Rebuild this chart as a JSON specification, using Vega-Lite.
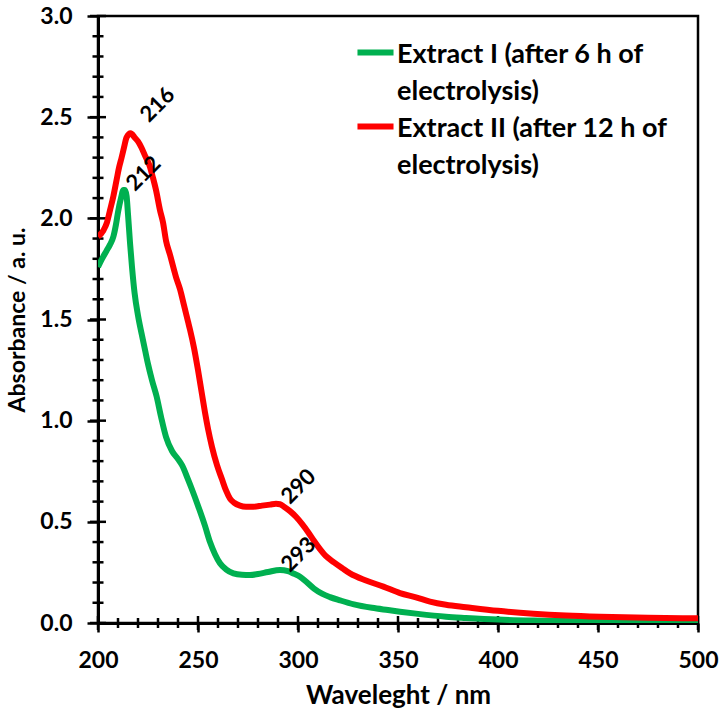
{
  "$schema": "https://vega.github.io/schema/vega-lite/v6.json",
  "width": 600,
  "height": 607,
  "autosize": "none",
  "padding": {"left": 98, "top": 16, "right": 28, "bottom": 90},
  "config": {
    "font": "Lato",
    "view": {"stroke": "black", "strokeWidth": 2.5},
    "axis": {"grid": false, "domainColor": "black", "labelColor": "black", "titleColor": "black", "domainWidth": 3, "labelFont": "Lato", "titleFont": "Lato", "labelFontWeight": "bold", "titleFontWeight": "bold", "labelFontSize": 23, "titleFontSize": 23}
  },
  "datasets": {
    "lines": [
      {"series": "Extract I (after 6 h of electrolysis)", "wavelength": 200, "absorbance": 1.76},
      {"series": "Extract I (after 6 h of electrolysis)", "wavelength": 202, "absorbance": 1.80},
      {"series": "Extract I (after 6 h of electrolysis)", "wavelength": 204.3, "absorbance": 1.84},
      {"series": "Extract I (after 6 h of electrolysis)", "wavelength": 206, "absorbance": 1.87},
      {"series": "Extract I (after 6 h of electrolysis)", "wavelength": 207.7, "absorbance": 1.91},
      {"series": "Extract I (after 6 h of electrolysis)", "wavelength": 209, "absorbance": 1.97},
      {"series": "Extract I (after 6 h of electrolysis)", "wavelength": 210, "absorbance": 2.03},
      {"series": "Extract I (after 6 h of electrolysis)", "wavelength": 211.5, "absorbance": 2.10},
      {"series": "Extract I (after 6 h of electrolysis)", "wavelength": 212.7, "absorbance": 2.14},
      {"series": "Extract I (after 6 h of electrolysis)", "wavelength": 213.5, "absorbance": 2.14},
      {"series": "Extract I (after 6 h of electrolysis)", "wavelength": 214.3, "absorbance": 2.11},
      {"series": "Extract I (after 6 h of electrolysis)", "wavelength": 215, "absorbance": 2.02},
      {"series": "Extract I (after 6 h of electrolysis)", "wavelength": 216, "absorbance": 1.88},
      {"series": "Extract I (after 6 h of electrolysis)", "wavelength": 217, "absorbance": 1.76},
      {"series": "Extract I (after 6 h of electrolysis)", "wavelength": 218.3, "absorbance": 1.63},
      {"series": "Extract I (after 6 h of electrolysis)", "wavelength": 220, "absorbance": 1.52},
      {"series": "Extract I (after 6 h of electrolysis)", "wavelength": 221.8, "absorbance": 1.43},
      {"series": "Extract I (after 6 h of electrolysis)", "wavelength": 223.5, "absorbance": 1.35},
      {"series": "Extract I (after 6 h of electrolysis)", "wavelength": 225, "absorbance": 1.28},
      {"series": "Extract I (after 6 h of electrolysis)", "wavelength": 227, "absorbance": 1.20},
      {"series": "Extract I (after 6 h of electrolysis)", "wavelength": 229.3, "absorbance": 1.12},
      {"series": "Extract I (after 6 h of electrolysis)", "wavelength": 231.5, "absorbance": 1.02},
      {"series": "Extract I (after 6 h of electrolysis)", "wavelength": 234, "absorbance": 0.92},
      {"series": "Extract I (after 6 h of electrolysis)", "wavelength": 237, "absorbance": 0.85},
      {"series": "Extract I (after 6 h of electrolysis)", "wavelength": 240, "absorbance": 0.81},
      {"series": "Extract I (after 6 h of electrolysis)", "wavelength": 242, "absorbance": 0.78},
      {"series": "Extract I (after 6 h of electrolysis)", "wavelength": 245, "absorbance": 0.71},
      {"series": "Extract I (after 6 h of electrolysis)", "wavelength": 247, "absorbance": 0.66},
      {"series": "Extract I (after 6 h of electrolysis)", "wavelength": 250, "absorbance": 0.58},
      {"series": "Extract I (after 6 h of electrolysis)", "wavelength": 253.5, "absorbance": 0.48},
      {"series": "Extract I (after 6 h of electrolysis)", "wavelength": 256, "absorbance": 0.40},
      {"series": "Extract I (after 6 h of electrolysis)", "wavelength": 258.5, "absorbance": 0.34},
      {"series": "Extract I (after 6 h of electrolysis)", "wavelength": 261, "absorbance": 0.295},
      {"series": "Extract I (after 6 h of electrolysis)", "wavelength": 264, "absorbance": 0.265},
      {"series": "Extract I (after 6 h of electrolysis)", "wavelength": 267.7, "absorbance": 0.245},
      {"series": "Extract I (after 6 h of electrolysis)", "wavelength": 272, "absorbance": 0.238},
      {"series": "Extract I (after 6 h of electrolysis)", "wavelength": 276, "absorbance": 0.237},
      {"series": "Extract I (after 6 h of electrolysis)", "wavelength": 280, "absorbance": 0.242},
      {"series": "Extract I (after 6 h of electrolysis)", "wavelength": 285, "absorbance": 0.252},
      {"series": "Extract I (after 6 h of electrolysis)", "wavelength": 291, "absorbance": 0.262},
      {"series": "Extract I (after 6 h of electrolysis)", "wavelength": 295, "absorbance": 0.256},
      {"series": "Extract I (after 6 h of electrolysis)", "wavelength": 298, "absorbance": 0.243},
      {"series": "Extract I (after 6 h of electrolysis)", "wavelength": 301, "absorbance": 0.229},
      {"series": "Extract I (after 6 h of electrolysis)", "wavelength": 304, "absorbance": 0.205},
      {"series": "Extract I (after 6 h of electrolysis)", "wavelength": 308, "absorbance": 0.170},
      {"series": "Extract I (after 6 h of electrolysis)", "wavelength": 312, "absorbance": 0.145},
      {"series": "Extract I (after 6 h of electrolysis)", "wavelength": 316, "absorbance": 0.128},
      {"series": "Extract I (after 6 h of electrolysis)", "wavelength": 321, "absorbance": 0.112},
      {"series": "Extract I (after 6 h of electrolysis)", "wavelength": 328, "absorbance": 0.092},
      {"series": "Extract I (after 6 h of electrolysis)", "wavelength": 337, "absorbance": 0.075},
      {"series": "Extract I (after 6 h of electrolysis)", "wavelength": 345, "absorbance": 0.064},
      {"series": "Extract I (after 6 h of electrolysis)", "wavelength": 351, "absorbance": 0.056},
      {"series": "Extract I (after 6 h of electrolysis)", "wavelength": 360, "absorbance": 0.045},
      {"series": "Extract I (after 6 h of electrolysis)", "wavelength": 374, "absorbance": 0.031},
      {"series": "Extract I (after 6 h of electrolysis)", "wavelength": 384, "absorbance": 0.025},
      {"series": "Extract I (after 6 h of electrolysis)", "wavelength": 400, "absorbance": 0.017},
      {"series": "Extract I (after 6 h of electrolysis)", "wavelength": 418, "absorbance": 0.012},
      {"series": "Extract I (after 6 h of electrolysis)", "wavelength": 451, "absorbance": 0.008},
      {"series": "Extract I (after 6 h of electrolysis)", "wavelength": 475, "absorbance": 0.006},
      {"series": "Extract I (after 6 h of electrolysis)", "wavelength": 500, "absorbance": 0.005},
      {"series": "Extract II (after 12 h of electrolysis)", "wavelength": 200, "absorbance": 1.91},
      {"series": "Extract II (after 12 h of electrolysis)", "wavelength": 202.7, "absorbance": 1.94},
      {"series": "Extract II (after 12 h of electrolysis)", "wavelength": 204.5, "absorbance": 1.98},
      {"series": "Extract II (after 12 h of electrolysis)", "wavelength": 206, "absorbance": 2.04},
      {"series": "Extract II (after 12 h of electrolysis)", "wavelength": 207.7, "absorbance": 2.11},
      {"series": "Extract II (after 12 h of electrolysis)", "wavelength": 209.3, "absorbance": 2.19},
      {"series": "Extract II (after 12 h of electrolysis)", "wavelength": 210.5, "absorbance": 2.25},
      {"series": "Extract II (after 12 h of electrolysis)", "wavelength": 211.8, "absorbance": 2.30},
      {"series": "Extract II (after 12 h of electrolysis)", "wavelength": 213, "absorbance": 2.35},
      {"series": "Extract II (after 12 h of electrolysis)", "wavelength": 214.3, "absorbance": 2.40},
      {"series": "Extract II (after 12 h of electrolysis)", "wavelength": 216.3, "absorbance": 2.42},
      {"series": "Extract II (after 12 h of electrolysis)", "wavelength": 218.3, "absorbance": 2.40},
      {"series": "Extract II (after 12 h of electrolysis)", "wavelength": 220, "absorbance": 2.38},
      {"series": "Extract II (after 12 h of electrolysis)", "wavelength": 221.7, "absorbance": 2.35},
      {"series": "Extract II (after 12 h of electrolysis)", "wavelength": 223.5, "absorbance": 2.31},
      {"series": "Extract II (after 12 h of electrolysis)", "wavelength": 225.8, "absorbance": 2.26},
      {"series": "Extract II (after 12 h of electrolysis)", "wavelength": 227.5, "absorbance": 2.20},
      {"series": "Extract II (after 12 h of electrolysis)", "wavelength": 229, "absorbance": 2.14},
      {"series": "Extract II (after 12 h of electrolysis)", "wavelength": 231, "absorbance": 2.04},
      {"series": "Extract II (after 12 h of electrolysis)", "wavelength": 232.5, "absorbance": 1.98},
      {"series": "Extract II (after 12 h of electrolysis)", "wavelength": 234, "absorbance": 1.89},
      {"series": "Extract II (after 12 h of electrolysis)", "wavelength": 236, "absorbance": 1.82},
      {"series": "Extract II (after 12 h of electrolysis)", "wavelength": 239, "absorbance": 1.71},
      {"series": "Extract II (after 12 h of electrolysis)", "wavelength": 241, "absorbance": 1.65},
      {"series": "Extract II (after 12 h of electrolysis)", "wavelength": 243, "absorbance": 1.57},
      {"series": "Extract II (after 12 h of electrolysis)", "wavelength": 245, "absorbance": 1.49},
      {"series": "Extract II (after 12 h of electrolysis)", "wavelength": 246, "absorbance": 1.45},
      {"series": "Extract II (after 12 h of electrolysis)", "wavelength": 248, "absorbance": 1.36},
      {"series": "Extract II (after 12 h of electrolysis)", "wavelength": 250, "absorbance": 1.25},
      {"series": "Extract II (after 12 h of electrolysis)", "wavelength": 252, "absorbance": 1.13},
      {"series": "Extract II (after 12 h of electrolysis)", "wavelength": 253.5, "absorbance": 1.04},
      {"series": "Extract II (after 12 h of electrolysis)", "wavelength": 255, "absorbance": 0.96},
      {"series": "Extract II (after 12 h of electrolysis)", "wavelength": 257, "absorbance": 0.87},
      {"series": "Extract II (after 12 h of electrolysis)", "wavelength": 259.5, "absorbance": 0.78},
      {"series": "Extract II (after 12 h of electrolysis)", "wavelength": 262, "absorbance": 0.71},
      {"series": "Extract II (after 12 h of electrolysis)", "wavelength": 264, "absorbance": 0.655},
      {"series": "Extract II (after 12 h of electrolysis)", "wavelength": 266, "absorbance": 0.615},
      {"series": "Extract II (after 12 h of electrolysis)", "wavelength": 268, "absorbance": 0.595},
      {"series": "Extract II (after 12 h of electrolysis)", "wavelength": 271, "absorbance": 0.58},
      {"series": "Extract II (after 12 h of electrolysis)", "wavelength": 274, "absorbance": 0.575},
      {"series": "Extract II (after 12 h of electrolysis)", "wavelength": 277.7, "absorbance": 0.575},
      {"series": "Extract II (after 12 h of electrolysis)", "wavelength": 282, "absorbance": 0.58},
      {"series": "Extract II (after 12 h of electrolysis)", "wavelength": 286, "absorbance": 0.585},
      {"series": "Extract II (after 12 h of electrolysis)", "wavelength": 289, "absorbance": 0.589},
      {"series": "Extract II (after 12 h of electrolysis)", "wavelength": 291, "absorbance": 0.587},
      {"series": "Extract II (after 12 h of electrolysis)", "wavelength": 293, "absorbance": 0.575},
      {"series": "Extract II (after 12 h of electrolysis)", "wavelength": 296, "absorbance": 0.553},
      {"series": "Extract II (after 12 h of electrolysis)", "wavelength": 299, "absorbance": 0.525},
      {"series": "Extract II (after 12 h of electrolysis)", "wavelength": 302, "absorbance": 0.49},
      {"series": "Extract II (after 12 h of electrolysis)", "wavelength": 305, "absorbance": 0.45},
      {"series": "Extract II (after 12 h of electrolysis)", "wavelength": 307.7, "absorbance": 0.41},
      {"series": "Extract II (after 12 h of electrolysis)", "wavelength": 311, "absorbance": 0.365},
      {"series": "Extract II (after 12 h of electrolysis)", "wavelength": 314, "absorbance": 0.33},
      {"series": "Extract II (after 12 h of electrolysis)", "wavelength": 318, "absorbance": 0.30},
      {"series": "Extract II (after 12 h of electrolysis)", "wavelength": 322, "absorbance": 0.272},
      {"series": "Extract II (after 12 h of electrolysis)", "wavelength": 326, "absorbance": 0.245},
      {"series": "Extract II (after 12 h of electrolysis)", "wavelength": 334, "absorbance": 0.21},
      {"series": "Extract II (after 12 h of electrolysis)", "wavelength": 342.7, "absorbance": 0.18},
      {"series": "Extract II (after 12 h of electrolysis)", "wavelength": 351, "absorbance": 0.148},
      {"series": "Extract II (after 12 h of electrolysis)", "wavelength": 359, "absorbance": 0.127},
      {"series": "Extract II (after 12 h of electrolysis)", "wavelength": 366, "absorbance": 0.106},
      {"series": "Extract II (after 12 h of electrolysis)", "wavelength": 374, "absorbance": 0.09},
      {"series": "Extract II (after 12 h of electrolysis)", "wavelength": 384, "absorbance": 0.078},
      {"series": "Extract II (after 12 h of electrolysis)", "wavelength": 400, "absorbance": 0.06},
      {"series": "Extract II (after 12 h of electrolysis)", "wavelength": 417.7, "absorbance": 0.046},
      {"series": "Extract II (after 12 h of electrolysis)", "wavelength": 434, "absorbance": 0.037},
      {"series": "Extract II (after 12 h of electrolysis)", "wavelength": 451, "absorbance": 0.031},
      {"series": "Extract II (after 12 h of electrolysis)", "wavelength": 475, "absorbance": 0.026},
      {"series": "Extract II (after 12 h of electrolysis)", "wavelength": 500, "absorbance": 0.023}
    ],
    "peaks": [
      {"label": "216", "wavelength": 225.5, "absorbance": 2.47},
      {"label": "212", "wavelength": 218.5, "absorbance": 2.13},
      {"label": "290", "wavelength": 296, "absorbance": 0.583},
      {"label": "293", "wavelength": 296, "absorbance": 0.247}
    ],
    "xMajor": [{"wavelength": 200}, {"wavelength": 250}, {"wavelength": 300}, {"wavelength": 350}, {"wavelength": 400}, {"wavelength": 450}, {"wavelength": 500}],
    "xMinor": [{"wavelength": 210}, {"wavelength": 220}, {"wavelength": 230}, {"wavelength": 240}, {"wavelength": 260}, {"wavelength": 270}, {"wavelength": 280}, {"wavelength": 290}, {"wavelength": 310}, {"wavelength": 320}, {"wavelength": 330}, {"wavelength": 340}, {"wavelength": 360}, {"wavelength": 370}, {"wavelength": 380}, {"wavelength": 390}, {"wavelength": 410}, {"wavelength": 420}, {"wavelength": 430}, {"wavelength": 440}, {"wavelength": 460}, {"wavelength": 470}, {"wavelength": 480}, {"wavelength": 490}],
    "yMajor": [{"absorbance": 0}, {"absorbance": 0.5}, {"absorbance": 1}, {"absorbance": 1.5}, {"absorbance": 2}, {"absorbance": 2.5}, {"absorbance": 3}],
    "yMinor": [{"absorbance": 0.1}, {"absorbance": 0.2}, {"absorbance": 0.3}, {"absorbance": 0.4}, {"absorbance": 0.6}, {"absorbance": 0.7}, {"absorbance": 0.8}, {"absorbance": 0.9}, {"absorbance": 1.1}, {"absorbance": 1.2}, {"absorbance": 1.3}, {"absorbance": 1.4}, {"absorbance": 1.6}, {"absorbance": 1.7}, {"absorbance": 1.8}, {"absorbance": 1.9}, {"absorbance": 2.1}, {"absorbance": 2.2}, {"absorbance": 2.3}, {"absorbance": 2.4}, {"absorbance": 2.6}, {"absorbance": 2.7}, {"absorbance": 2.8}, {"absorbance": 2.9}]
  },
  "layer": [
    {
      "data": {"name": "xMajor"},
      "mark": {"type": "tick", "orient": "vertical", "size": 14, "thickness": 2.5, "color": "black", "opacity": 1},
      "encoding": {
        "x": {"field": "wavelength", "type": "quantitative", "scale": {"domain": [200, 500], "nice": false, "zero": false}, "axis": null},
        "y": {"datum": 0, "type": "quantitative", "scale": {"domain": [0, 3], "nice": false}, "axis": null}
      }
    },
    {
      "data": {"name": "xMinor"},
      "mark": {"type": "tick", "orient": "vertical", "size": 10, "thickness": 2.5, "color": "black", "opacity": 1},
      "encoding": {
        "x": {"field": "wavelength", "type": "quantitative", "scale": {"domain": [200, 500], "nice": false, "zero": false}, "axis": null},
        "y": {"datum": 0, "type": "quantitative", "scale": {"domain": [0, 3], "nice": false}, "axis": null}
      }
    },
    {
      "data": {"name": "yMajor"},
      "mark": {"type": "tick", "orient": "horizontal", "size": 16, "thickness": 2.5, "color": "black", "opacity": 1},
      "encoding": {
        "y": {"field": "absorbance", "type": "quantitative", "scale": {"domain": [0, 3], "nice": false}, "axis": null},
        "x": {"datum": 200, "type": "quantitative", "scale": {"domain": [200, 500], "nice": false, "zero": false}, "axis": null}
      }
    },
    {
      "data": {"name": "yMinor"},
      "mark": {"type": "tick", "orient": "horizontal", "size": 11, "thickness": 2.5, "color": "black", "opacity": 1},
      "encoding": {
        "y": {"field": "absorbance", "type": "quantitative", "scale": {"domain": [0, 3], "nice": false}, "axis": null},
        "x": {"datum": 200, "type": "quantitative", "scale": {"domain": [200, 500], "nice": false, "zero": false}, "axis": null}
      }
    },
    {
      "data": {"name": "lines"},
      "mark": {"type": "line", "strokeWidth": 6, "interpolate": "monotone", "clip": true},
      "encoding": {
        "x": {"field": "wavelength", "type": "quantitative", "scale": {"domain": [200, 500], "nice": false, "zero": false},
          "axis": {"orient": "bottom", "title": "Waveleght / nm", "values": [200, 250, 300, 350, 400, 450, 500], "ticks": true, "tickSize": 9, "tickWidth": 2.5, "tickColor": "#000000", "labelPadding": 17, "titlePadding": 10, "titleFontSize": 26, "labelFlush": false}},
        "y": {"field": "absorbance", "type": "quantitative", "scale": {"domain": [0, 3], "nice": false},
          "axis": {"orient": "left", "title": "Absorbance / a. u.", "values": [0, 0.5, 1, 1.5, 2, 2.5, 3], "format": ".1f", "ticks": true, "tickSize": 11, "tickWidth": 2.5, "tickColor": "#000000", "labelPadding": 15, "titlePadding": 10, "labelFlush": false}},
        "color": {"field": "series", "type": "nominal",
          "scale": {"domain": ["Extract I (after 6 h of electrolysis)", "Extract II (after 12 h of electrolysis)"], "range": ["#00B050", "#FF0000"]},
          "legend": {"title": null, "orient": "none", "legendX": 256, "legendY": 15, "symbolType": "stroke", "symbolSize": 1300, "symbolStrokeWidth": 6, "labelFont": "Lato", "labelFontSize": 27, "labelFontWeight": "bold", "labelColor": "black", "labelLimit": 500, "labelOffset": 0, "rowPadding": 0, "padding": 0,
            "labelExpr": "datum.label == 'Extract I (after 6 h of electrolysis)' ? ['Extract I (after 6 h of', 'electrolysis)'] : ['Extract II (after 12 h of', 'electrolysis)']",
            "labelBaseline": "alphabetic",
            "encode": {"labels": {"update": {"lineHeight": {"value": 37}, "dy": {"value": 10}}}}}}
      }
    },
    {
      "data": {"name": "peaks"},
      "mark": {"type": "text", "angle": -45, "align": "left", "baseline": "alphabetic", "font": "Lato", "fontSize": 22, "fontWeight": "bold", "color": "black"},
      "encoding": {
        "x": {"field": "wavelength", "type": "quantitative", "scale": {"domain": [200, 500], "nice": false, "zero": false}, "axis": null},
        "y": {"field": "absorbance", "type": "quantitative", "scale": {"domain": [0, 3], "nice": false}, "axis": null},
        "text": {"field": "label", "type": "nominal"}
      }
    }
  ],
  "resolve": {"axis": {"x": "independent", "y": "independent"}}
}
